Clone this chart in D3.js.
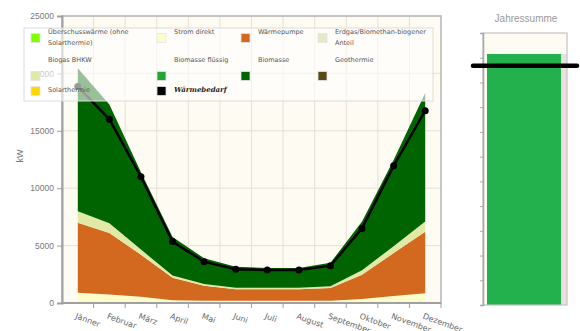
<!DOCTYPE html>
<html>
<head>
<meta charset="utf-8">
<script src="https://cdn.jsdelivr.net/npm/d3@7"></script>
<style>
  body { margin: 0; background: #fff; }
  svg { display: block; }
</style>
</head>
<body>
<svg id="chart"></svg>
<script>
let width = 580;
let height = 331;

// monthly values (kW)
let months = ["Jänner", "Februar", "März", "April", "Mai", "Juni", "Juli", "August", "September", "Oktober", "November", "Dezember"];
let stromDirekt = [900, 750, 550, 250, 200, 200, 200, 200, 200, 350, 600, 850];
let waermepumpe = [6100, 5350, 3650, 1950, 1300, 1000, 1000, 1000, 1100, 2100, 3750, 5350];
let biogasBHKW = [1000, 850, 450, 200, 150, 120, 120, 120, 150, 400, 600, 900];
let biomasse = [12450, 10350, 6750, 3350, 2250, 1830, 1730, 1730, 2050, 4250, 7500, 11200];
let waermebedarf = [18850, 16000, 11000, 5350, 3600, 2950, 2870, 2870, 3250, 6500, 11950, 16750];

let yTicks = [0, 5000, 10000, 15000, 20000, 25000];

// annual totals (right panel)
let jahresAngebot = 101500;
let jahresBedarf = 96800;
let jahresTicks = d3.range(0, 110001, 10000);

let legendItems = [
  { label: ["Überschusswärme (ohne", "Solarthermie)"], color: "#7fff00" },
  { label: ["Strom direkt"], color: "#fdfdcc" },
  { label: ["Wärmepumpe"], color: "#d2691e" },
  { label: ["Erdgas/Biomethan-biogener", "Anteil"], color: "#e6e8c6" },
  { label: ["Biogas BHKW"], color: "#e0e9a6" },
  { label: ["Biomasse flüssig"], color: "#22a534" },
  { label: ["Biomasse"], color: "#006400" },
  { label: ["Geothermie"], color: "#5b4a14" },
  { label: ["Solarthermie"], color: "#ffd700" },
  { label: ["Wärmebedarf"], color: "#000000", line: true },
];

let layerKeys = ["Strom direkt", "Wärmepumpe", "Biogas BHKW", "Biomasse"];
let layerColors = ["#fdfdcc", "#d2691e", "#e0e9a6", "#006400"];

let table = months.map((m, i) => ({
  month: m,
  "Strom direkt": stromDirekt[i],
  "Wärmepumpe": waermepumpe[i],
  "Biogas BHKW": biogasBHKW[i],
  "Biomasse": biomasse[i],
}));

let svg = d3.select("svg#chart").attr("width", width).attr("height", height);

let plot = { left: 62, right: 441, top: 16, bottom: 303 };

let xScale = d3.scaleBand().domain(months).range([plot.left, plot.right]);
let yScale = d3.scaleLinear().domain([0, 25000]).range([plot.bottom, plot.top]);
let cx = (m) => xScale(m) + xScale.bandwidth() / 2;

// background + grid
svg.append("rect")
  .attr("x", plot.left).attr("y", plot.top)
  .attr("width", plot.right - plot.left).attr("height", plot.bottom - plot.top)
  .attr("fill", "#fefbf3");

let grid = svg.append("g").attr("stroke", "#e6e0d6").attr("stroke-width", 1);
grid.selectAll("line.v")
  .data(months.slice(1))
  .join("line")
  .attr("x1", (d) => xScale(d)).attr("x2", (d) => xScale(d))
  .attr("y1", plot.top).attr("y2", plot.bottom);
grid.selectAll("line.h")
  .data(yTicks.slice(1))
  .join("line")
  .attr("x1", plot.left).attr("x2", plot.right)
  .attr("y1", (d) => yScale(d)).attr("y2", (d) => yScale(d));

// stacked areas
let series = d3.stack().keys(layerKeys)(table);
let area = d3.area()
  .x((d) => cx(d.data.month))
  .y0((d) => yScale(d[0]))
  .y1((d) => yScale(d[1]));

svg.append("g")
  .selectAll("path")
  .data(series)
  .join("path")
  .attr("d", area)
  .attr("fill", (d, i) => layerColors[i]);

// Wärmebedarf line
let line = d3.line().x((d, i) => cx(months[i])).y((d) => yScale(d));
svg.append("path")
  .attr("d", line(waermebedarf))
  .attr("fill", "none")
  .attr("stroke", "#000")
  .attr("stroke-width", 2.5);
svg.append("g")
  .selectAll("circle")
  .data(waermebedarf)
  .join("circle")
  .attr("cx", (d, i) => cx(months[i]))
  .attr("cy", (d) => yScale(d))
  .attr("r", 3.5)
  .attr("fill", "#000");

// frame
svg.append("rect")
  .attr("x", plot.left).attr("y", plot.top)
  .attr("width", plot.right - plot.left).attr("height", plot.bottom - plot.top)
  .attr("fill", "none")
  .attr("stroke", "#b5b5b5")
  .attr("stroke-width", 1.5);

// y axis
svg.append("g")
  .attr("transform", `translate(${plot.left}, 0)`)
  .call(d3.axisLeft(yScale).tickValues(yTicks).tickSize(5).tickPadding(3).tickFormat(d3.format("d")))
  .call((g) => g.select(".domain").attr("stroke", "#a0a0a0").attr("stroke-width", 2))
  .call((g) => g.selectAll(".tick line").attr("stroke", "#a0a0a0"))
  .call((g) => g.selectAll("text").attr("fill", "#777").style("font-family", "Liberation Sans, Arial, sans-serif").style("font-size", "8.5px"));

svg.append("text")
  .attr("transform", "translate(23, 156) rotate(-90)")
  .attr("text-anchor", "middle")
  .attr("fill", "#777")
  .style("font-family", "Liberation Sans, Arial, sans-serif")
  .style("font-size", "9px")
  .text("kW");

// x axis
let xAxisG = svg.append("g").attr("transform", `translate(0, ${plot.bottom})`);
xAxisG.append("line")
  .attr("x1", plot.left).attr("x2", plot.right)
  .attr("stroke", "#a0a0a0").attr("stroke-width", 2);
xAxisG.selectAll("line.tick")
  .data(months.slice(1).concat(["end"]))
  .join("line")
  .attr("class", "tick")
  .attr("x1", (d) => (d === "end" ? plot.right : xScale(d)))
  .attr("x2", (d) => (d === "end" ? plot.right : xScale(d)))
  .attr("y1", 0).attr("y2", 5)
  .attr("stroke", "#a0a0a0");
xAxisG.selectAll("text")
  .data(months)
  .join("text")
  .attr("transform", (d) => `translate(${cx(d) - 1}, 10) rotate(20)`)
  .attr("dy", "0.7em")
  .attr("fill", "#666")
  .style("font-family", "DejaVu Sans, sans-serif")
  .style("font-size", "8px")
  .text((d) => d);

// legend overlay
let legend = svg.append("g");
legend.append("rect")
  .attr("x", 24).attr("y", 28).attr("width", 409).attr("height", 73)
  .attr("fill", "#fff").attr("fill-opacity", 0.6)
  .attr("stroke", "#dcdcdc");

let colX = [31, 157, 241, 318];
let rowText = [34, 62, 92];
let rowSwatch = [38, 76, 91];

legendItems.forEach((item, i) => {
  let col = i % 4;
  let row = Math.floor(i / 4);
  let g = legend.append("g");
  g.append("rect")
    .attr("x", colX[col]).attr("y", rowSwatch[row] - 4.5)
    .attr("width", 9).attr("height", 9)
    .attr("fill", item.color)
    .attr("stroke", "#e4e4e4").attr("stroke-width", 0.8);
  let t = g.append("text")
    .attr("x", colX[col] + 17).attr("y", rowText[row])
    .attr("fill", item.line ? "#222" : "#555")
    .style("font-family", item.line ? "DejaVu Serif, serif" : "DejaVu Sans, sans-serif")
    .style("font-size", item.line ? "7px" : "6.5px")
    .style("font-weight", item.line ? "bold" : "normal")
    .style("font-style", item.line ? "italic" : "normal");
  item.label.forEach((s, k) => {
    t.append("tspan").attr("x", colX[col] + 17).attr("dy", k === 0 ? 0 : 10.5).text(s);
  });
});

// right panel: Jahressumme
let panel = { left: 483, right: 567, top: 33, bottom: 305 };
let ySum = d3.scaleLinear().domain([0, 110000]).range([panel.bottom, panel.top]);

svg.append("text")
  .attr("x", (panel.left + panel.right) / 2 + 1).attr("y", 22)
  .attr("text-anchor", "middle")
  .attr("fill", "#999")
  .style("font-family", "Liberation Sans, Arial, sans-serif")
  .style("font-size", "10px")
  .text("Jahressumme");

svg.append("rect")
  .attr("x", panel.left).attr("y", panel.top)
  .attr("width", panel.right - panel.left).attr("height", panel.bottom - panel.top)
  .attr("fill", "#fefbf3");
svg.append("rect")
  .attr("x", panel.right - 6).attr("y", ySum(jahresAngebot))
  .attr("width", 6).attr("height", panel.bottom - ySum(jahresAngebot))
  .attr("fill", "#eadfdf");

svg.append("rect")
  .attr("x", panel.left + 4).attr("y", ySum(jahresAngebot))
  .attr("width", panel.right - panel.left - 10).attr("height", panel.bottom - ySum(jahresAngebot))
  .attr("fill", "#22b14c");

svg.append("rect")
  .attr("x", panel.left).attr("y", panel.top)
  .attr("width", panel.right - panel.left).attr("height", panel.bottom - panel.top)
  .attr("fill", "none")
  .attr("stroke", "#c4c4c4").attr("stroke-width", 1.2);

svg.append("g")
  .attr("transform", `translate(${panel.left}, 0)`)
  .call(d3.axisLeft(ySum).tickValues(jahresTicks).tickSize(3).tickFormat(""))
  .call((g) => g.select(".domain").attr("stroke", "#a8a8a8").attr("stroke-width", 1.5))
  .call((g) => g.selectAll(".tick line").attr("stroke", "#a8a8a8"));

svg.append("line")
  .attr("x1", 473).attr("x2", 577)
  .attr("y1", ySum(jahresBedarf)).attr("y2", ySum(jahresBedarf))
  .attr("stroke", "#000").attr("stroke-width", 4.5)
  .attr("stroke-linecap", "round");
</script>
</body>
</html>
